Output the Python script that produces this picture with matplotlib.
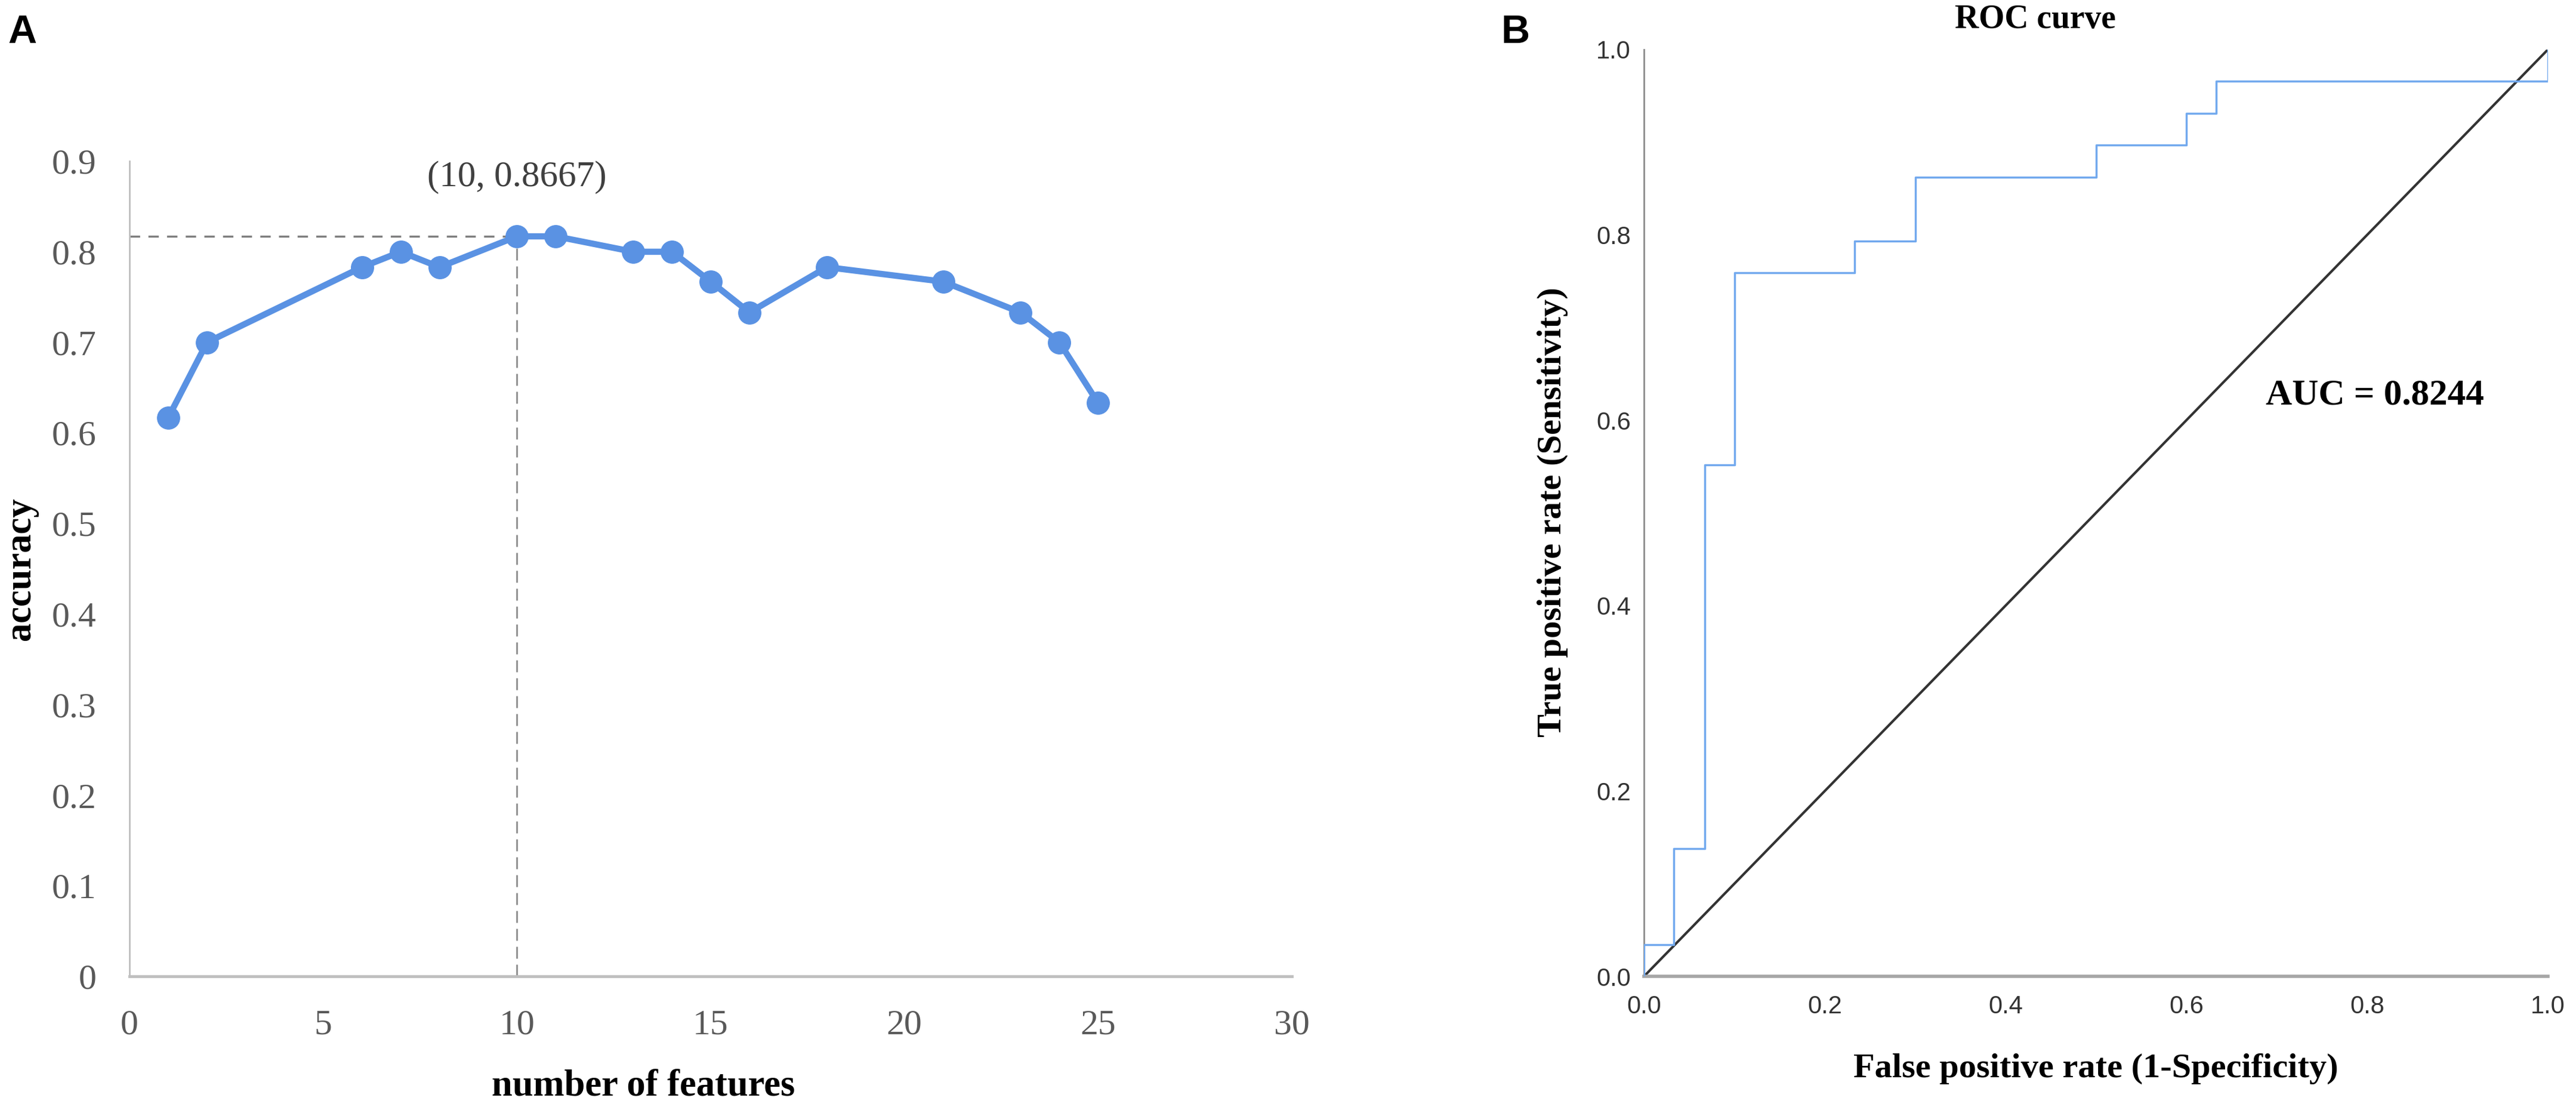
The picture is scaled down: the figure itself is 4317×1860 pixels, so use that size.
import matplotlib
matplotlib.use("Agg")
from matplotlib import pyplot as plt

# Panel A: accuracy vs number of features
n_features = [1, 2, 6, 7, 8, 10, 11, 13, 14, 15, 16, 18, 21, 23, 24, 25]
accuracy = [0.617, 0.700, 0.783, 0.800, 0.783, 0.817, 0.817, 0.800,
            0.800, 0.767, 0.733, 0.783, 0.767, 0.733, 0.700, 0.633]
best_x = 10
best_y = 0.817
best_label = "(10, 0.8667)"
a_xticks = [0, 5, 10, 15, 20, 25, 30]
a_yticks = [0, 0.1, 0.2, 0.3, 0.4, 0.5, 0.6, 0.7, 0.8, 0.9]
a_ytick_labels = ["0", "0.1", "0.2", "0.3", "0.4", "0.5", "0.6", "0.7", "0.8", "0.9"]

# Panel B: ROC curve corner points
fpr = [0.0, 0.0, 0.033, 0.033, 0.067, 0.067, 0.100, 0.100, 0.233, 0.233,
       0.300, 0.300, 0.500, 0.500, 0.600, 0.600, 0.633, 0.633, 1.0, 1.0]
tpr = [0.0, 0.034, 0.034, 0.138, 0.138, 0.552, 0.552, 0.759, 0.759, 0.793,
       0.793, 0.862, 0.862, 0.897, 0.897, 0.931, 0.931, 0.966, 0.966, 1.0]
auc_text = "AUC = 0.8244"
b_ticks = [0.0, 0.2, 0.4, 0.6, 0.8, 1.0]

serif = "Liberation Serif"
sans = "Liberation Sans"

fig = plt.figure(figsize=(43.17, 18.6), dpi=100)

#---------------- Panel A ----------------
axA = fig.add_axes([0.0503, 0.1204, 0.4512, 0.7344])
axA.plot(n_features, accuracy, color="#5A92E3", lw=7.5, marker="o",
         markersize=27, zorder=3, solid_capstyle="round")
# dashed guide lines to the best point
axA.plot([0, best_x], [best_y, best_y], color="#808080", lw=2.5,
         dashes=(5, 4), zorder=2)
axA.plot([best_x, best_x], [0, best_y], color="#808080", lw=1.8,
         dashes=(8, 4), zorder=2)
axA.text(best_x, 0.882, best_label, ha="center", va="center",
         fontsize=44, family=serif, color="#404040")

axA.set_xlim(0, 30)
axA.set_ylim(0, 0.9)
axA.set_xticks(a_xticks)
axA.set_yticks(a_yticks)
axA.set_yticklabels(a_ytick_labels)
for s in ["top", "right"]:
    axA.spines[s].set_visible(False)
axA.spines["left"].set_color("#BFBFBF")
axA.spines["left"].set_linewidth(2)
axA.spines["bottom"].set_color("#BFBFBF")
axA.spines["bottom"].set_linewidth(3.5)
axA.tick_params(length=0, pad=40, labelsize=43, labelcolor="#595959")
for lab in axA.get_xticklabels() + axA.get_yticklabels():
    lab.set_family(serif)

fig.text(0.2497, 0.0215, "number of features", ha="center", va="center",
         fontsize=45, family=serif, weight="bold")
fig.text(0.0081, 0.4876, "accuracy", ha="center", va="center", rotation=90,
         fontsize=45, family=serif, weight="bold")
fig.text(0.0032, 0.987, "A", ha="left", va="top", fontsize=48,
         family=sans, weight="bold")

#---------------- Panel B ----------------
axB = fig.add_axes([0.6382, 0.1204, 0.3509, 0.8350])
axB.plot(fpr, tpr, color="#72A9EE", lw=2.5, zorder=3)
axB.plot([0, 1], [0, 1], color="#333333", lw=3, zorder=2)
axB.text(0.688, 0.627, auc_text, ha="left", va="center", fontsize=44,
         family=serif, weight="bold")

axB.set_xlim(0, 1)
axB.set_ylim(0, 1)
axB.set_xticks(b_ticks)
axB.set_yticks(b_ticks)
axB.set_xticklabels([f"{t:.1f}" for t in b_ticks])
axB.set_yticklabels([f"{t:.1f}" for t in b_ticks])
for s in ["top", "right"]:
    axB.spines[s].set_visible(False)
axB.spines["left"].set_color("#8C8C8C")
axB.spines["left"].set_linewidth(2)
axB.spines["bottom"].set_color("#A6A6A6")
axB.spines["bottom"].set_linewidth(4)
axB.tick_params(length=0, labelsize=30, labelcolor="#333333")
axB.tick_params(axis="x", pad=22)
axB.tick_params(axis="y", pad=16)
for lab in axB.get_xticklabels() + axB.get_yticklabels():
    lab.set_family(sans)

fig.text(0.8135, 0.0371, "False positive rate (1-Specificity)", ha="center",
         va="center", fontsize=42, family=serif, weight="bold")
fig.text(0.6027, 0.5387, "True positive rate (Sensitivity)", ha="center",
         va="center", rotation=90, fontsize=42, family=serif, weight="bold")
fig.text(0.7901, 0.9823, "ROC curve", ha="center", va="center",
         fontsize=40, family=serif, weight="bold")
fig.text(0.5828, 0.987, "B", ha="left", va="top", fontsize=48,
         family=sans, weight="bold")

fig.savefig("out.png", dpi=100, facecolor="white")
